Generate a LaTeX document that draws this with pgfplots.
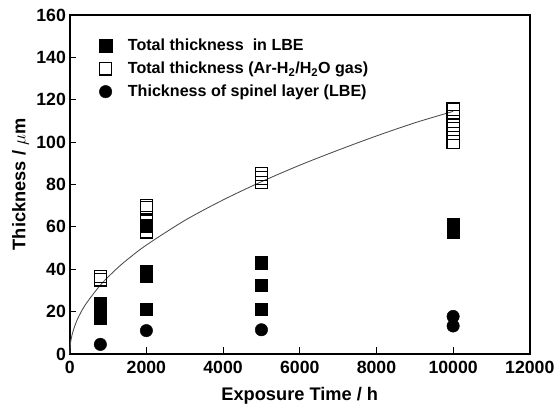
\documentclass[border=0pt]{standalone}
\usepackage{fontspec}
\setmainfont{Liberation Sans}
\usepackage{pgfplots}
\pgfplotsset{compat=1.18}

\begin{document}
\begin{tikzpicture}[font=\bfseries]
\begin{axis}[
  scale only axis,
  width=429pt, height=316pt,
  xmin=0, xmax=12000, ymin=0, ymax=160,
  xtick={0,2000,...,12000},
  ytick={0,20,...,160},
  scaled ticks=false,
  tick align=inside,
  xtick pos=bottom, ytick pos=left,
  major tick length=6pt,
  axis line style={line width=2pt},
  tick style={line width=0.8pt, black},
  xticklabel={\fontsize{16.5}{18}\selectfont\bfseries\pgfmathprintnumber[assume math mode=true,set thousands separator={}]{\tick}},
  yticklabel={\fontsize{16.5}{18}\selectfont\bfseries\pgfmathprintnumber[assume math mode=true]{\tick}},
  xticklabel style={yshift=-3pt},
  xlabel={\fontsize{17}{19}\selectfont\bfseries Exposure Time / h},
  ylabel={\fontsize{17}{19}\selectfont\bfseries Thickness / $\mu$m},
  xlabel style={yshift=-6pt},
  legend style={draw=none, fill=none, at={(0.057,0.942)}, anchor=north west,
    row sep=5pt, nodes={font=\fontsize{15}{17}\selectfont\bfseries}},
  legend cell align=left,
  legend image post style={xshift=-6pt},
  clip=false,
]
% total thickness in LBE
\addplot[only marks, mark=square*, mark size=5.8pt, black] coordinates {
  (800,17)(800,20)(800,24)
  (2000,21)(2000,37)(2000,39)
  (5000,21)(5000,32.5)(5000,43)
  (10000,57.5)(10000,59.5)(10000,61)
};
\addlegendentry{\fontsize{15}{17}\selectfont\bfseries\hspace{13pt}Total thickness\ \ in LBE}
% total thickness in Ar-H2/H2O gas
\addplot[only marks, mark=square, mark size=5.8pt, black, line width=1.1pt, mark options={fill=white}] coordinates {
  (800,35)(800,36.5)
  (2000,62.5)(2000,69)(2000,70)
  (5000,81)(5000,83)(5000,85)
  (10000,100)(10000,104)(10000,108)(10000,112)(10000,115.5)
};
\addlegendentry{\fontsize{15}{17}\selectfont\bfseries\hspace{13pt}Total thickness (Ar-H\textsubscript{2}/H\textsubscript{2}O gas)}
% spinel layer
\addplot[only marks, mark=*, mark size=5.8pt, black] coordinates {
  (800,4.5)(2000,11)(5000,11.4)(10000,13.2)(10000,17.7)
};
\addlegendentry{\fontsize{15}{17}\selectfont\bfseries\hspace{13pt}Thickness of spinel layer (LBE)}
% overlapping points at 2000 h (filled drawn over, then open drawn over)
\addplot[only marks, mark=square*, mark size=5.8pt, black, forget plot] coordinates {(2000,60.5)};
\addplot[only marks, mark=square, mark size=5.8pt, black, line width=1.1pt, mark options={fill=white}, forget plot] coordinates {(2000,57.7)};
% parabolic fit
\addplot[smooth, gray!60!black, line width=0.8pt, forget plot] coordinates {
  (0,0)(20,5.1)(50,8.1)(100,11.5)(200,16.3)(400,23)(800,32.5)(1200,39.8)
  (1500,44.5)(2000,51.4)(3000,63)(4000,72.7)(5000,81.3)(6000,89.1)
  (7000,96.2)(8000,102.9)(9000,109.1)(10000,114.5)
};
\end{axis}
\path ([shift={(-65pt,-54pt)}]current axis.south west) rectangle ([shift={(26pt,14pt)}]current axis.north east);
\end{tikzpicture}
\end{document}
